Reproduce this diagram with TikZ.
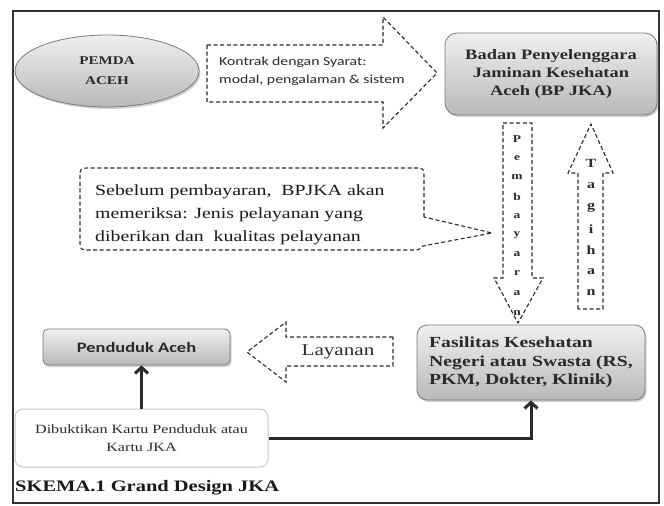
\documentclass[tikz,border=0pt]{standalone}
\usepackage{fontspec}
\setmainfont{Liberation Serif}
\newfontfamily\gar{Liberation Serif}[FakeStretch=1.28]
\newfontfamily\calfont{Carlito}[FakeStretch=1.28]
\usetikzlibrary{shapes.geometric,arrows.meta,shadows}
\definecolor{ink}{HTML}{2A2A2A}
\definecolor{boxline}{HTML}{7A7A7A}
\tikzset{
  gbox/.style={draw=boxline, line width=0.8pt, top color=gray!12, bottom color=gray!55,
    drop shadow={opacity=0.35, shadow xshift=1.5pt, shadow yshift=-2pt},
    text=ink, align=center, inner sep=0pt},
  dline/.style={draw=ink, line width=1.1pt, dash pattern=on 4pt off 2.6pt},
  conn/.style={draw=ink, line width=3pt, -{Straight Barb[length=6pt,width=13pt]}},
  txt/.style={inner sep=0pt, text=ink},
  pletter/.style={inner sep=0pt, text=ink, font=\gar\bfseries\fontsize{10.5}{12}\selectfont},
  tletter/.style={inner sep=0pt, text=ink, font=\gar\bfseries\fontsize{12.5}{14}\selectfont},
}
\begin{document}
\begin{tikzpicture}[x=1pt, y=-1pt]
\useasboundingbox (0,0) rectangle (664,506);
\fill[white] (0,0) rectangle (664,506);
\draw[line width=1.3pt, draw=black!80] (13,11) rectangle (659,503);

% PEMDA ellipse
\node[gbox, ellipse, minimum width=184, minimum height=72,
      font=\gar\bfseries\fontsize{11.8}{20}\selectfont] (pemda) at (107,71) {PEMDA\\ACEH};

% contract arrow
\draw[dline] (207,45) -- (383,45) -- (383,17) -- (437,73) -- (383,128) -- (383,102) -- (207,102) -- cycle;
\node[txt, anchor=west, align=left, font=\calfont\fontsize{12.3}{18}\selectfont] (kontrak) at (219,71)
  {Kontrak dengan Syarat:\\modal, pengalaman \& sistem};

% BP JKA
\node[gbox, rounded corners=12pt, minimum width=212, minimum height=82,
      font=\gar\bfseries\fontsize{14.4}{18}\selectfont] (bp) at (551,74)
  {Badan Penyelenggara\\Jaminan Kesehatan\\Aceh (BP JKA)};

% Pembayaran arrow (down)
\draw[dline] (503,123) -- (532,123) -- (532,278) -- (543,278) -- (518,323) -- (494,278) -- (503,278) -- cycle;
\foreach \ch/\yy [count=\i] in {P/139,e/158,m/177,b/197,a/216,y/235,a/254,r/273,a/293,n/313}
  \node[pletter] (p\i) at (517,\yy) {\ch};

% Tagihan arrow (up)
\draw[dline] (578,309) -- (578,173) -- (568,173) -- (591,124) -- (613,173) -- (603,173) -- (603,309) -- cycle;
\foreach \ch/\yy [count=\i] in {T/163,a/186,g/208,i/229,h/250,a/272,n/293}
  \node[tletter] (t\i) at (591,\yy) {\ch};

% callout
\draw[dline] (424,217) -- (424,178) .. controls (424,168) .. (414,168) -- (90,168)
  .. controls (80,168) .. (80,178) -- (80,240) .. controls (80,250) .. (90,250)
  -- (412,250) .. controls (419,250) .. (423,246) -- (492,233) -- cycle;
\node[txt, anchor=west, align=left, text=black!90, font=\gar\fontsize{15.5}{23}\selectfont] (note) at (95,215)
  {Sebelum pembayaran,\ \ BPJKA akan\\memeriksa: Jenis pelayanan yang\\diberikan dan\ \ kualitas pelayanan};

% Penduduk Aceh
\node[gbox, rounded corners=5pt, minimum width=187, minimum height=36,
      font=\calfont\bfseries\fontsize{14.4}{16}\selectfont] (pend) at (136.5,347) {Penduduk Aceh};

% Layanan arrow (left)
\draw[dline] (393,337) -- (286,337) -- (286,322) -- (247,352) -- (286,382) -- (286,366) -- (393,366) -- cycle;
\node[txt, font=\gar\fontsize{16.5}{18}\selectfont] (lay) at (338,352) {Layanan};

% Fasilitas
\node[gbox, rounded corners=10pt, minimum width=228, minimum height=75, align=left,
      font=\gar\bfseries\fontsize{15.4}{18.5}\selectfont] (fas) at (531,362.5)
  {Fasilitas Kesehatan\\Negeri atau Swasta (RS,\\PKM, Dokter, Klinik)};

% Dibuktikan
\node[draw=gray!45, line width=1pt, rounded corners=8pt, fill=white, minimum width=253, minimum height=58,
      inner sep=0pt, align=center, text=ink, font=\gar\fontsize{12.6}{18}\selectfont] (dib) at (141.5,438)
  {Dibuktikan Kartu Penduduk atau\\Kartu JKA};

% connectors
\draw[conn] (dib.north) -- (dib.north |- pend.south);
\draw[conn] (dib.east) -| (fas.south);

% caption
\node[txt, anchor=west, text=black!90, font=\gar\bfseries\fontsize{16}{18}\selectfont] (cap) at (15,488)
  {SKEMA.1 Grand Design JKA};
\end{tikzpicture}
\end{document}
